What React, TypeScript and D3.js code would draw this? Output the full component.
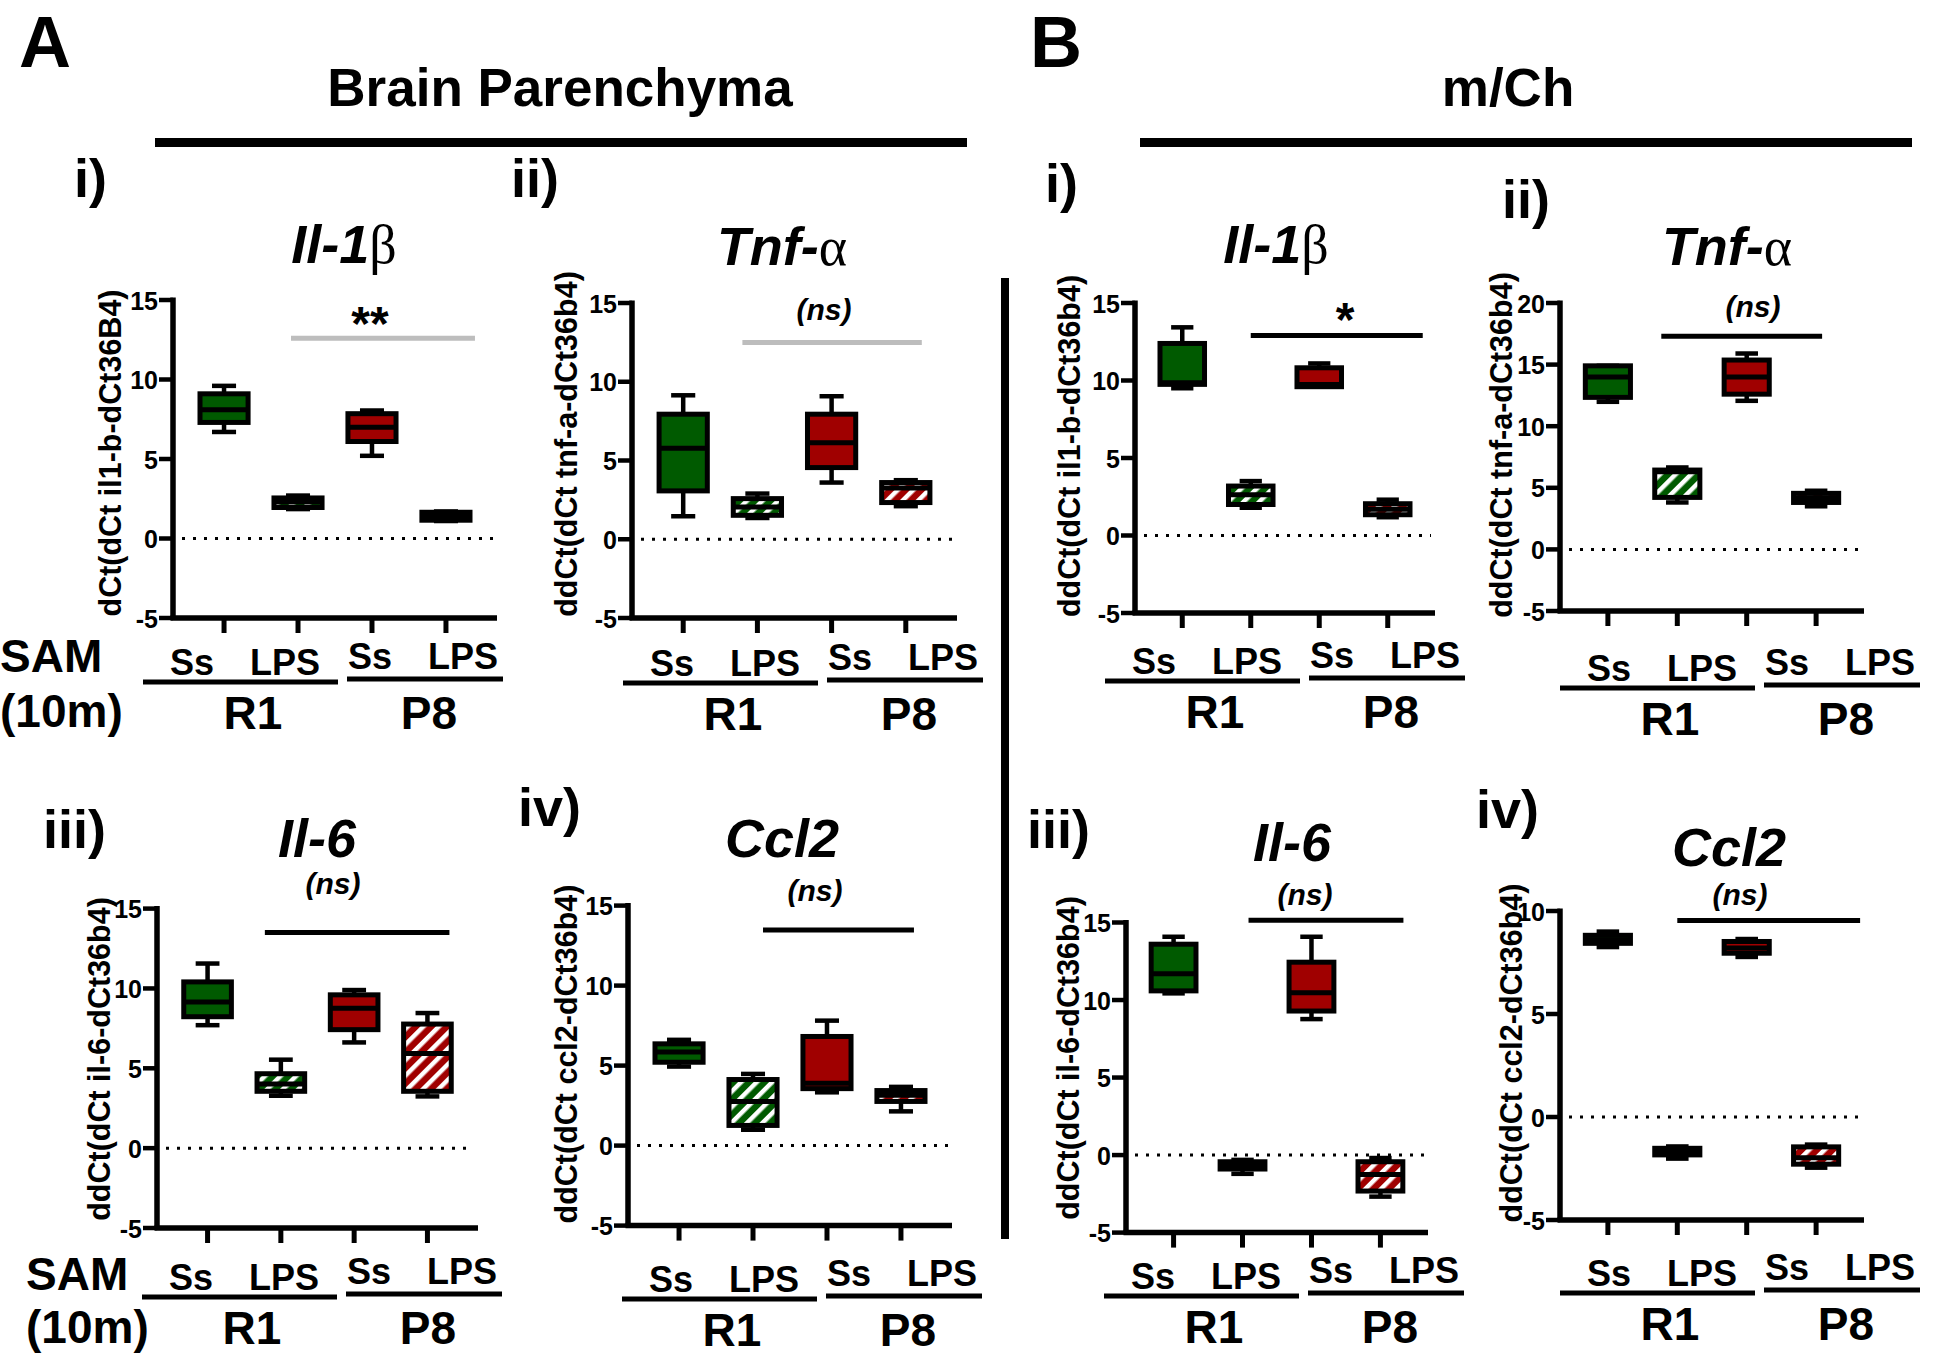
import React from "react";
import * as d3 from "d3";

// groups along the x axis of every panel
const groups = ["R1 Ss", "R1 LPS", "P8 Ss", "P8 LPS"];
const catLabels = ["Ss", "LPS", "Ss", "LPS"];
const cohortLabels = ["R1", "P8"];

// box stats per group: [low whisker, q1, median, q3, high whisker]
const bpIl1b = [
  [6.7, 7.3, 8.1, 9.1, 9.6],
  [1.85, 1.95, 2.3, 2.55, 2.7],
  [5.2, 6.1, 7.0, 7.85, 8.05],
  [1.1, 1.15, 1.4, 1.65, 1.7],
];
const bpTnfa = [
  [1.46, 3.07, 5.78, 7.94, 9.14],
  [1.35, 1.52, 2.05, 2.58, 2.9],
  [3.6, 4.55, 6.12, 7.94, 9.08],
  [2.1, 2.33, 3.26, 3.6, 3.75],
];
const bpIl6 = [
  [7.7, 8.23, 9.15, 10.41, 11.56],
  [3.28, 3.56, 4.02, 4.66, 5.54],
  [6.62, 7.42, 8.76, 9.6, 9.9],
  [3.24, 3.56, 5.93, 7.77, 8.46],
];
const bpCcl2 = [
  [4.94, 5.21, 5.85, 6.36, 6.61],
  [0.99, 1.26, 2.76, 4.13, 4.48],
  [3.33, 3.56, 3.9, 6.82, 7.81],
  [2.14, 2.76, 3.15, 3.44, 3.67],
];
const mchIl1b = [
  [9.5, 9.75, 9.85, 12.39, 13.43],
  [1.79, 2.0, 2.63, 3.19, 3.51],
  [9.6, 9.6, 9.75, 10.82, 11.1],
  [1.18, 1.34, 1.7, 2.05, 2.31],
];
const mchTnfa = [
  [11.98, 12.34, 14.0, 14.9, 14.9],
  [3.81, 4.22, 6.3, 6.44, 6.65],
  [12.06, 12.6, 14.0, 15.37, 15.9],
  [3.5, 3.81, 4.2, 4.55, 4.76],
];
const mchIl6 = [
  [10.43, 10.59, 11.7, 13.6, 14.08],
  [-1.21, -0.9, -0.66, -0.43, -0.31],
  [8.77, 9.29, 10.47, 12.44, 14.08],
  [-2.68, -2.32, -1.26, -0.43, -0.19],
];
const mchCcl2 = [
  [8.25, 8.43, 8.6, 8.82, 9.0],
  [-2.02, -1.84, -1.66, -1.52, -1.43],
  [7.77, 7.95, 8.2, 8.52, 8.64],
  [-2.46, -2.29, -1.98, -1.45, -1.34],
];

// y ticks
const ticks15 = [-5, 0, 5, 10, 15];
const ticks20 = [-5, 0, 5, 10, 15, 20];
const ticks10 = [-5, 0, 5, 10];

// significance bars (y value in data units) and their labels
const sigValues = [12.6, 12.5, 12.9, 17.3, 13.5, 13.48, 15.14, 9.54];
const sigLabels = ["**", "(ns)", "*", "(ns)", "(ns)", "(ns)", "(ns)", "(ns)"];

const GREEN = "#005a00";
const RED = "#a00000";
const FONT = "'Liberation Sans', Arial, Helvetica, sans-serif";

const fills = [GREEN, "url(#hatchG)", RED, "url(#hatchR)"];

const panels = [
  {
    data: bpIl1b, ticks: ticks15, sig: 0, ylab: "dCt(dCt il1-b-dCt36B4)",
    gene: "Il-1", greek: "β", num: "i)",
    ax: 173, xEnd: 497, yTop: 300, yBot: 618, labX: 121, labY: 453, g: 143, uy: 682,
    tx: 344, ty: 263, nx: 74, ny: 197, s0: -7, s1: 29, sx: 370, sy: 340, gray: true,
  },
  {
    data: bpTnfa, ticks: ticks15, sig: 1, ylab: "ddCt(dCt tnf-a-dCt36b4)",
    gene: "Tnf-", greek: "α", num: "ii)",
    ax: 632, xEnd: 957, yTop: 303, yBot: 618, labX: 577, labY: 444, g: 623, uy: 683,
    tx: 782, ty: 265, nx: 511, ny: 197, s0: -15, s1: 16, sx: 824, sy: 320, gray: true,
  },
  {
    data: mchIl1b, ticks: ticks15, sig: 2, ylab: "ddCt(dCt il1-b-dCt36b4)",
    gene: "Il-1", greek: "β", num: "i)",
    ax: 1135, xEnd: 1435, yTop: 303, yBot: 613, labX: 1080, labY: 446, g: 1105, uy: 681,
    tx: 1276, ty: 263, nx: 1045, ny: 202, s0: 0, s1: 35, sx: 1345, sy: 336, gray: false,
  },
  {
    data: mchTnfa, ticks: ticks20, sig: 3, ylab: "ddCt(dCt tnf-a-dCt36b4)",
    gene: "Tnf-", greek: "α", num: "ii)",
    ax: 1560, xEnd: 1864, yTop: 303, yBot: 611, labX: 1512, labY: 445, g: 1560, uy: 688,
    tx: 1727, ty: 265, nx: 1502, ny: 218, s0: -16, s1: 6, sx: 1753, sy: 317, gray: false,
  },
  {
    data: bpIl6, ticks: ticks15, sig: 4, ylab: "ddCt(dCt il-6-dCt36b4)",
    gene: "Il-6", greek: "", num: "iii)",
    ax: 157, xEnd: 478, yTop: 908.6, yBot: 1228, labX: 110, labY: 1059, g: 142, uy: 1297,
    tx: 317, ty: 857, nx: 43, ny: 848, s0: -16, s1: 22, sx: 333, sy: 894, gray: false,
  },
  {
    data: bpCcl2, ticks: ticks15, sig: 5, ylab: "ddCt(dCt ccl2-dCt36b4)",
    gene: "Ccl2", greek: "", num: "iv)",
    ax: 628, xEnd: 952, yTop: 905.6, yBot: 1225.6, labX: 577, labY: 1054, g: 622, uy: 1299,
    tx: 782, ty: 857, nx: 518, ny: 826, s0: 10, s1: 13, sx: 815, sy: 901, gray: false,
  },
  {
    data: mchIl6, ticks: ticks15, sig: 6, ylab: "ddCt(dCt il-6-dCt36b4)",
    gene: "Il-6", greek: "", num: "iii)",
    ax: 1126, xEnd: 1428, yTop: 922.5, yBot: 1232.6, labX: 1079, labY: 1058, g: 1104, uy: 1296,
    tx: 1292, ty: 861, nx: 1027, ny: 848, s0: 6, s1: 23, sx: 1305, sy: 905, gray: false,
  },
  {
    data: mchCcl2, ticks: ticks10, sig: 7, ylab: "ddCt(dCt ccl2-dCt36b4)",
    gene: "Ccl2", greek: "", num: "iv)",
    ax: 1560, xEnd: 1864, yTop: 911, yBot: 1220, labX: 1522, labY: 1053, g: 1560, uy: 1293,
    tx: 1729, ty: 866, nx: 1476, ny: 828, s0: 0, s1: 44, sx: 1740, sy: 905, gray: false,
  },
];

function Panel({ p }: { p: any }) {
  const ext = d3.extent(p.ticks) as [number, number];
  const y = d3.scaleLinear().domain(ext).range([p.yBot, p.yTop]);
  const x = d3.scalePoint<string>().domain(groups).range([p.ax, p.xEnd]).padding(0.69);
  const bw = x.step() * 0.65;
  const cap = bw * 0.5;
  const sigY = y(sigValues[p.sig]);
  const sigX0 = (x("R1 LPS") as number) + p.s0;
  const sigX1 = (x("P8 LPS") as number) + p.s1;
  const label = sigLabels[p.sig];
  const isStar = label.indexOf("*") >= 0;

  return (
    <g fontFamily={FONT}>
      {/* roman numeral and gene title */}
      <text x={p.nx} y={p.ny} fontSize={54} fontWeight="bold">{p.num}</text>
      <text x={p.tx} y={p.ty} textAnchor="middle" fontSize={54}>
        <tspan fontWeight="bold" fontStyle="italic">{p.gene}</tspan>
        {p.greek ? (
          <tspan fontFamily="'Liberation Serif', 'DejaVu Serif', serif">{p.greek}</tspan>
        ) : null}
      </text>

      {/* y axis label */}
      <text
        transform={`translate(${p.labX},${p.labY}) rotate(-90)`}
        textAnchor="middle"
        fontSize={30.5}
        fontWeight="bold"
      >
        {p.ylab}
      </text>

      {/* zero line */}
      <line x1={p.ax + 9} x2={p.xEnd - 4} y1={y(0)} y2={y(0)} stroke="#000" strokeWidth={3} strokeDasharray="3,8" />

      {/* boxes */}
      {p.data.map((d: number[], i: number) => {
        const cx = x(groups[i]) as number;
        const [lo, q1, med, q3, hi] = d;
        return (
          <g key={i}>
            <line x1={cx} x2={cx} y1={y(q3)} y2={y(hi)} stroke="#000" strokeWidth={4.5} />
            <line x1={cx} x2={cx} y1={y(q1)} y2={y(lo)} stroke="#000" strokeWidth={4.5} />
            <line x1={cx - cap / 2} x2={cx + cap / 2} y1={y(hi)} y2={y(hi)} stroke="#000" strokeWidth={4.5} />
            <line x1={cx - cap / 2} x2={cx + cap / 2} y1={y(lo)} y2={y(lo)} stroke="#000" strokeWidth={4.5} />
            <rect
              x={cx - bw / 2}
              y={y(q3)}
              width={bw}
              height={Math.max(0.5, y(q1) - y(q3))}
              fill={fills[i]}
              stroke="#000"
              strokeWidth={5}
            />
            <line x1={cx - bw / 2} x2={cx + bw / 2} y1={y(med)} y2={y(med)} stroke="#000" strokeWidth={5} />
          </g>
        );
      })}

      {/* y axis */}
      <line x1={p.ax} x2={p.ax} y1={p.yTop - 2.5} y2={p.yBot} stroke="#000" strokeWidth={5.5} />
      {p.ticks.map((t: number) => (
        <g key={t}>
          <line x1={p.ax - 14} x2={p.ax} y1={y(t)} y2={y(t)} stroke="#000" strokeWidth={4.5} />
          <text x={p.ax - 15} y={y(t)} dy="0.38em" textAnchor="end" fontSize={25} fontWeight="bold">
            {t}
          </text>
        </g>
      ))}

      {/* x axis */}
      <line x1={p.ax - 2.5} x2={p.xEnd} y1={p.yBot} y2={p.yBot} stroke="#000" strokeWidth={5.5} />
      {groups.map((gname) => (
        <line
          key={gname}
          x1={x(gname) as number}
          x2={x(gname) as number}
          y1={p.yBot}
          y2={p.yBot + 15}
          stroke="#000"
          strokeWidth={5}
        />
      ))}

      {/* significance */}
      <line
        x1={sigX0}
        x2={sigX1}
        y1={sigY}
        y2={sigY}
        stroke={p.gray ? "#bdbdbd" : "#000"}
        strokeWidth={5}
      />
      <text
        x={p.sx}
        y={p.sy}
        textAnchor="middle"
        fontSize={isStar ? 48 : 30}
        fontWeight="bold"
        fontStyle={isStar ? "normal" : "italic"}
      >
        {label}
      </text>

      {/* category labels */}
      <line x1={p.g} x2={p.g + 195} y1={p.uy} y2={p.uy} stroke="#000" strokeWidth={5} />
      <line x1={p.g + 204} x2={p.g + 360} y1={p.uy - 3} y2={p.uy - 3} stroke="#000" strokeWidth={5} />
      {catLabels.map((c, i) => (
        <text
          key={i}
          x={p.g + [49, 142, 227, 320][i]}
          y={p.uy - (i < 2 ? 7 : 13)}
          textAnchor="middle"
          fontSize={36}
          fontWeight="bold"
        >
          {c}
        </text>
      ))}
      {cohortLabels.map((c, i) => (
        <text key={c} x={p.g + [110, 286][i]} y={p.uy + 47} textAnchor="middle" fontSize={46} fontWeight="bold">
          {c}
        </text>
      ))}
    </g>
  );
}

export default function App() {
  return (
    <svg
      width={1943}
      height={1356}
      style={{ position: "absolute", left: 0, top: 0, background: "#fff" }}
      fontFamily={FONT}
    >
      <defs>
        <pattern id="hatchG" patternUnits="userSpaceOnUse" width={11} height={11} patternTransform="rotate(45)">
          <rect width={11} height={11} fill={GREEN} />
          <rect width={4.5} height={11} fill="#fff" />
        </pattern>
        <pattern id="hatchR" patternUnits="userSpaceOnUse" width={11} height={11} patternTransform="rotate(45)">
          <rect width={11} height={11} fill={RED} />
          <rect width={4.5} height={11} fill="#fff" />
        </pattern>
      </defs>
      <rect width={1943} height={1356} fill="#fff" />

      {/* section headers */}
      <text x={19} y={67} fontSize={72} fontWeight="bold">A</text>
      <text x={1030} y={67} fontSize={72} fontWeight="bold">B</text>
      <text x={560} y={106} textAnchor="middle" fontSize={53} fontWeight="bold">Brain Parenchyma</text>
      <text x={1508} y={106} textAnchor="middle" fontSize={53} fontWeight="bold">m/Ch</text>
      <line x1={155} x2={967} y1={142.5} y2={142.5} stroke="#000" strokeWidth={9} />
      <line x1={1140} x2={1912} y1={142.5} y2={142.5} stroke="#000" strokeWidth={9} />
      <line x1={1005} x2={1005} y1={278} y2={1239} stroke="#000" strokeWidth={8} />

      {/* row labels */}
      <text x={0} y={672} fontSize={46} fontWeight="bold">SAM</text>
      <text x={0} y={727} fontSize={46} fontWeight="bold">(10m)</text>
      <text x={26} y={1290} fontSize={46} fontWeight="bold">SAM</text>
      <text x={26} y={1343} fontSize={46} fontWeight="bold">(10m)</text>

      {panels.map((p, i) => (
        <Panel key={i} p={p} />
      ))}
    </svg>
  );
}
